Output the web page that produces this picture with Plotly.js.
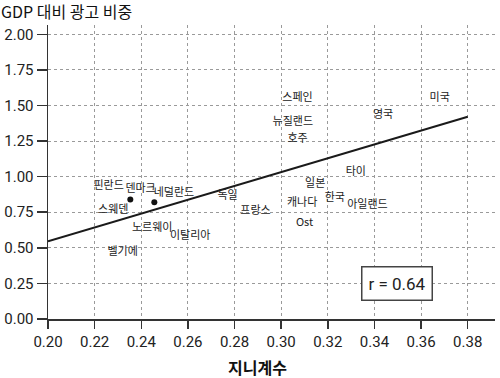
<!DOCTYPE html>
<html><head><meta charset="utf-8">
<script src="https://cdn.plot.ly/plotly-3.0.1.min.js"></script>
<style>html,body{margin:0;padding:0;background:#fff}#c{width:500px;height:378px}</style>
</head><body><div id="c"></div>
<script>
const countries = ["스페인","미국","영국","뉴질랜드","호주","타이","일본","캐나다","한국","아일랜드","Ost","프랑스","독일","핀란드","덴마크","네덜란드","스웨덴","노르웨이","이탈리아","벨기에"];
const giniLabel = [0.307,0.368,0.3437,0.305,0.307,0.332,0.3146,0.309,0.323,0.337,0.310,0.289,0.277,0.226,0.2397,0.254,0.228,0.2447,0.261,0.232];
const adLabel   = [1.55,1.55,1.43,1.38,1.265,1.03,0.95,0.81,0.85,0.80,0.67,0.76,0.86,0.93,0.91,0.88,0.765,0.64,0.58,0.47];
const dotGini = [0.2353,0.2456];
const dotAd   = [0.84,0.82];
const fitX = [0.20,0.38];
const fitY = [0.545,1.42];
const xTicks = [0.20,0.22,0.24,0.26,0.28,0.30,0.32,0.34,0.36,0.38];
const yTicks = [0,0.25,0.5,0.75,1.0,1.25,1.5,1.75,2.0];
const rText = "r = 0.64";

const kfont = "Noto Sans CJK KR, Noto Sans, sans-serif";
const data = [
  {x: fitX, y: fitY, mode: 'lines', line: {color: '#1a1a1a', width: 2}, hoverinfo: 'skip'},
  {x: dotGini, y: dotAd, mode: 'markers', marker: {color: '#111', size: 6}},
  {x: giniLabel, y: adLabel, mode: 'text', text: countries, textposition: 'middle center',
   textfont: {family: kfont, size: 11, color: '#222'}}
];
const layout = {
  width: 500, height: 378,
  margin: {l: 47.5, r: 5, t: 25, b: 59},
  showlegend: false,
  paper_bgcolor: '#fff', plot_bgcolor: '#fff',
  font: {family: 'Roboto, sans-serif', color: '#222'},
  title: {text: 'GDP 대비 광고 비중', font: {family: kfont, size: 16, color: '#111'},
          x: 0.002, xref: 'container', xanchor: 'left', y: 1 - 12.5/378, yref: 'container', yanchor: 'middle'},
  xaxis: {range: [0.20, 0.3917], tickvals: xTicks, ticktext: xTicks.map(v => v.toFixed(2)),
          showgrid: true, gridcolor: '#9a9a9a', griddash: 'dot', gridwidth: 1,
          showline: true, linecolor: '#333', linewidth: 1.5, zeroline: false,
          ticks: 'outside', ticklen: 8, tickwidth: 1.5, tickcolor: '#333',
          tickfont: {family: 'Roboto, sans-serif', size: 15, color: '#222'}},
  yaxis: {range: [0, 2.065], tickvals: yTicks, ticktext: yTicks.map(v => v.toFixed(2)),
          showgrid: true, gridcolor: '#9a9a9a', griddash: 'dot', gridwidth: 1,
          showline: true, linecolor: '#333', linewidth: 1.5, zeroline: false,
          ticks: 'outside', ticklen: 10, tickwidth: 1.5, tickcolor: '#333',
          tickfont: {family: 'Roboto, sans-serif', size: 15, color: '#222'}},
  annotations: [
    {text: rText, x: 0.3495, y: 0.246, xref: 'x', yref: 'y', showarrow: false,
     font: {family: 'Roboto, sans-serif', size: 17, color: '#222'},
     bordercolor: '#444', borderwidth: 1.5, bgcolor: '#fff', width: 67, height: 30, borderpad: 1},
    {text: '<b>지니계수</b>', xref: 'paper', yref: 'paper', x: (257-47.5)/447.5, y: -(367-319)/294,
     xanchor: 'center', yanchor: 'middle', showarrow: false,
     font: {family: kfont, size: 16, color: '#111'}}
  ]
};
Plotly.newPlot('c', data, layout, {staticPlot: true});
</script></body></html>
